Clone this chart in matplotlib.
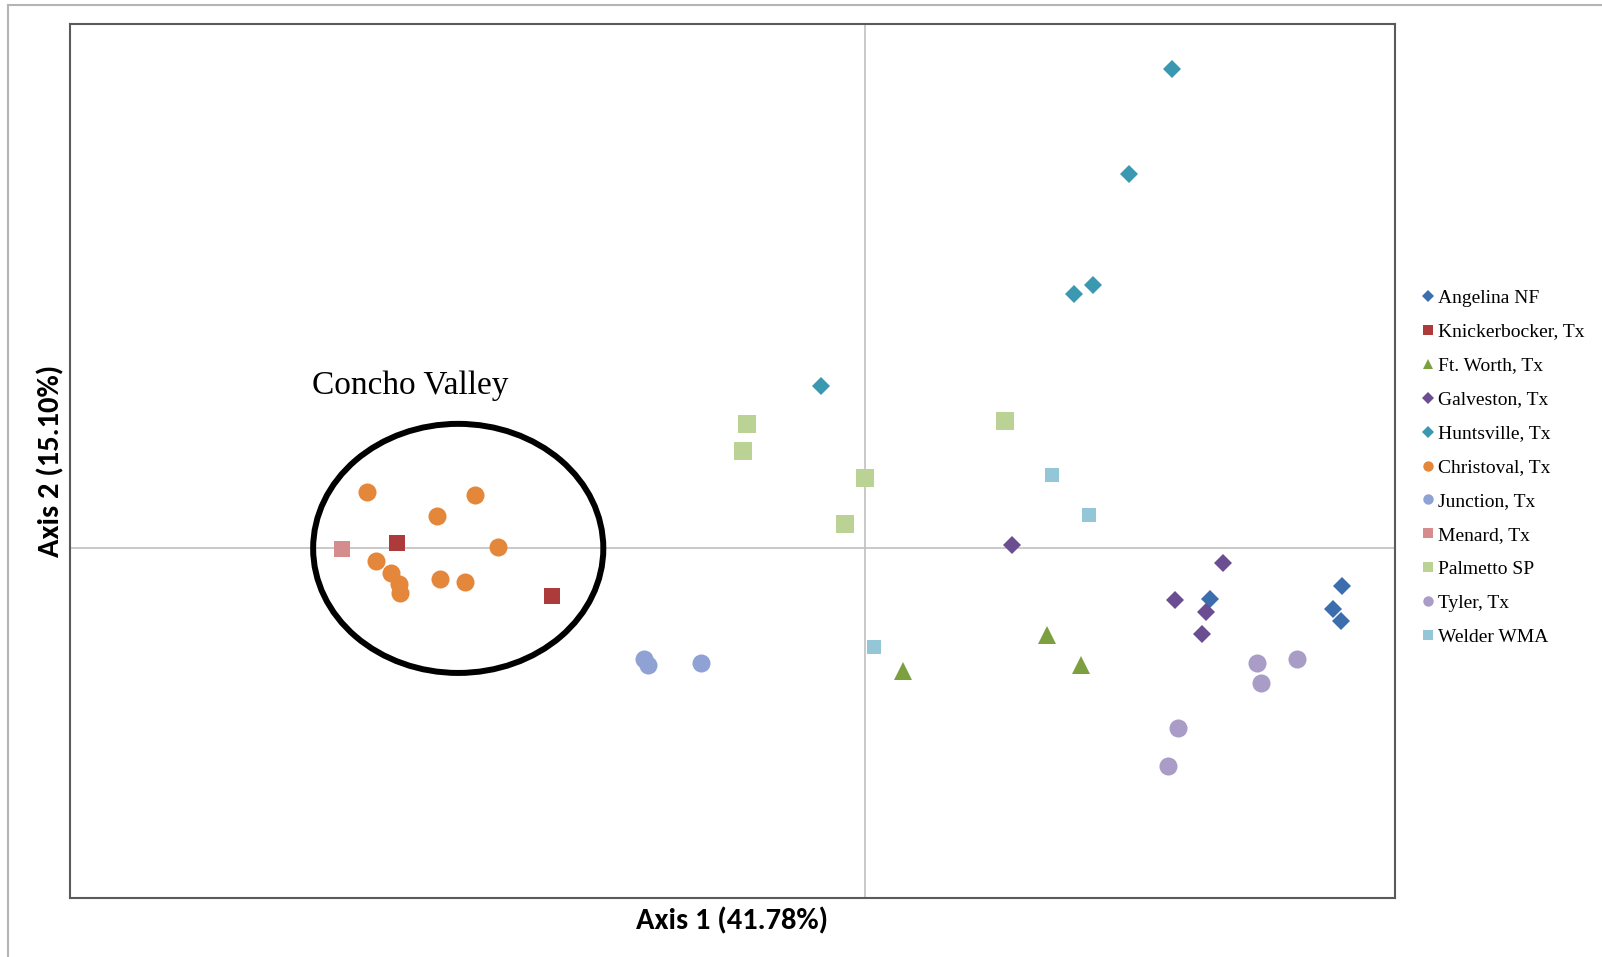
import matplotlib
matplotlib.use("Agg")
import matplotlib.pyplot as plt
from matplotlib.lines import Line2D
from matplotlib.patches import Ellipse
from matplotlib import font_manager

# ---- data: PCoA scores per collection site ----
sites = ["Angelina NF", "Knickerbocker, Tx", "Ft. Worth, Tx", "Galveston, Tx",
         "Huntsville, Tx", "Christoval, Tx", "Junction, Tx", "Menard, Tx",
         "Palmetto SP", "Tyler, Tx", "Welder WMA"]

angelina_x = [0.260, 0.360, 0.353, 0.359]
angelina_y = [-0.058, -0.043, -0.069, -0.083]
knickerbocker_x = [-0.353, -0.236]
knickerbocker_y = [0.006, -0.055]
ftworth_x = [0.029, 0.137, 0.163]
ftworth_y = [-0.140, -0.099, -0.133]
galveston_x = [0.111, 0.270, 0.234, 0.257, 0.254]
galveston_y = [0.004, -0.017, -0.059, -0.073, -0.098]
huntsville_x = [-0.033, 0.232, 0.199, 0.172, 0.158]
huntsville_y = [0.186, 0.549, 0.428, 0.301, 0.291]
christoval_x = [-0.376, -0.294, -0.323, -0.277, -0.369, -0.358, -0.352, -0.351, -0.321, -0.302]
christoval_y = [0.065, 0.061, 0.037, 0.002, -0.014, -0.028, -0.041, -0.051, -0.035, -0.038]
junction_x = [-0.167, -0.164, -0.124]
junction_y = [-0.126, -0.133, -0.131]
menard_x = [-0.395]
menard_y = [-0.001]
palmetto_x = [-0.089, -0.092, 0.000, -0.015, 0.106]
palmetto_y = [0.142, 0.112, 0.081, 0.028, 0.146]
tyler_x = [0.296, 0.299, 0.326, 0.236, 0.229]
tyler_y = [-0.131, -0.154, -0.126, -0.205, -0.249]
welder_x = [0.141, 0.169, 0.007]
welder_y = [0.084, 0.038, -0.113]

xs = [angelina_x, knickerbocker_x, ftworth_x, galveston_x, huntsville_x,
      christoval_x, junction_x, menard_x, palmetto_x, tyler_x, welder_x]
ys = [angelina_y, knickerbocker_y, ftworth_y, galveston_y, huntsville_y,
      christoval_y, junction_y, menard_y, palmetto_y, tyler_y, welder_y]

axis1_label = "Axis 1 (41.78%)"
axis2_label = "Axis 2 (15.10%)"
group_label = "Concho Valley"

# ---- styling ----
markers = ["D", "s", "^", "D", "D", "o", "o", "s", "s", "o", "s"]
colors = ["#3C6EAD", "#AE3B3B", "#7CA03F", "#6A4E91", "#3A98B0", "#E5873B",
          "#8FA2D3", "#D68B8C", "#BBD295", "#A99CC6", "#93C7D8"]
sizes = [9, 12, 13, 9, 9, 13, 13, 12, 13, 13, 9.5]
legend_sizes = {"D": 6.5, "s": 7.0, "o": 7.5, "^": 7.5}


def pick_font(candidates):
    for name in candidates:
        try:
            font_manager.findfont(font_manager.FontProperties(family=name),
                                  fallback_to_default=False)
            return name
        except Exception:
            continue
    return "DejaVu Sans"


label_font = pick_font(["Carlito", "Liberation Sans Narrow", "Open Sans", "DejaVu Sans"])
serif_font = pick_font(["Liberation Serif", "DejaVu Serif"])

W, H = 1602, 957
fig = plt.figure(figsize=(W / 100, H / 100), dpi=100)

# outer chart-area border (left and top edges visible)
fig.add_artist(Line2D([8 / W, 8 / W], [0, 1 - 5 / H], transform=fig.transFigure,
                      color="#B4B4B4", lw=1.5))
fig.add_artist(Line2D([8 / W, 1], [1 - 5 / H, 1 - 5 / H], transform=fig.transFigure,
                      color="#B4B4B4", lw=1.5))

left, right, top, bottom = 70, 1395, 24, 898
ax = fig.add_axes([left / W, 1 - bottom / H, (right - left) / W, (bottom - top) / H])
ax.set_xlim(-0.6, 0.4)
ax.set_ylim(-0.4, 0.6)
ax.set_xticks([])
ax.set_yticks([])
for sp in ax.spines.values():
    sp.set_color("#5A5A5A")
    sp.set_linewidth(1.5)

ax.axhline(0, color="#C0C0C0", lw=1.2, zorder=1)
ax.axvline(0, color="#C0C0C0", lw=1.2, zorder=1)

for name, x, y, m, c, s in zip(sites, xs, ys, markers, colors, sizes):
    ax.plot(x, y, linestyle="none", marker=m, color=c, markersize=s,
            markeredgewidth=0, label=name, zorder=3)

# outline around the Concho Valley samples
ax.add_patch(Ellipse((-0.307, 0.0), 0.219, 0.285, fill=False,
                     edgecolor="black", lw=4.3, zorder=4))
ax.text(-0.343, 0.186, group_label, ha="center", va="center",
        fontsize=24, family=serif_font, color="black")

handles = [Line2D([], [], linestyle="none", marker=m, color=c,
                  markersize=legend_sizes[m], markeredgewidth=0)
           for m, c in zip(markers, colors)]
fig.legend(handles, sites, loc="upper left", bbox_to_anchor=(1421 / W, 1 - 289 / H),
           frameon=False, borderpad=0, borderaxespad=0, handlelength=0.7,
           handletextpad=0.2, labelspacing=0.84,
           prop=font_manager.FontProperties(family=serif_font, size=14))

fig.text((left + right) / 2 / W, 1 - 921 / H, axis1_label, ha="center", va="center",
         fontsize=22, fontweight="bold", family=label_font)
fig.text(51 / W, 1 - 461 / H, axis2_label, ha="center", va="center", rotation=90,
         fontsize=22, fontweight="bold", family=label_font)

fig.savefig("out.png", dpi=100)
